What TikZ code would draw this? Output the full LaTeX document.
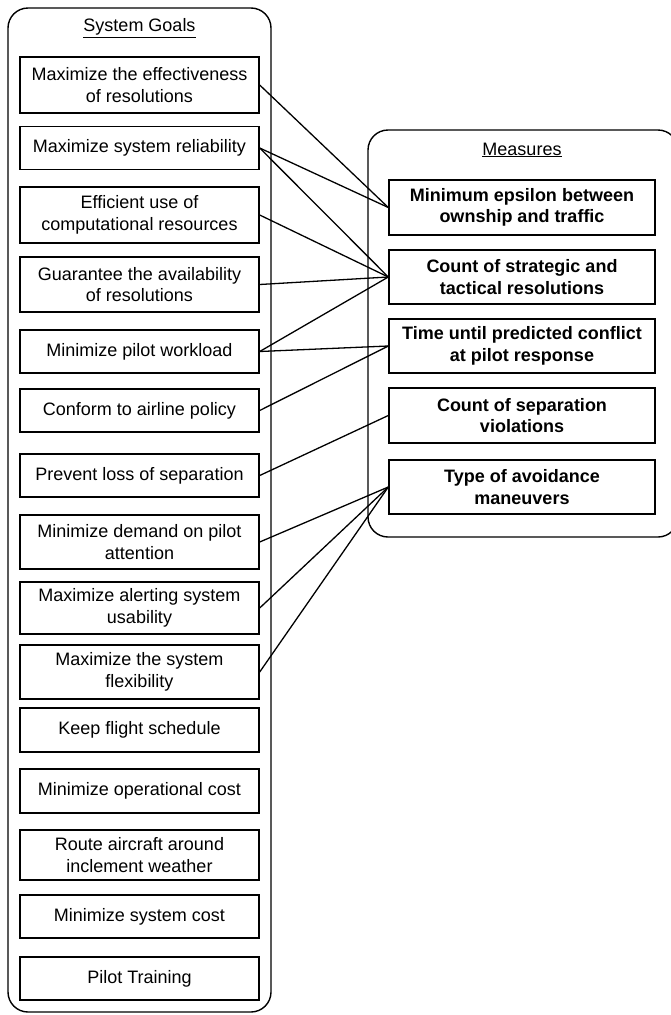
\documentclass[tikz,border=0pt]{standalone}
\usepackage{fontspec}
\setmainfont{Liberation Sans}
\usepackage{tikz}
\usetikzlibrary{positioning}

\begin{document}
\begin{tikzpicture}[
    x=1pt, y=-1pt,
    goalbox/.style={rectangle, draw, line width=1.4pt, fill=white, minimum width=239pt, minimum height=#1, inner sep=2pt, align=center, font=\fontsize{18}{21.5}\selectfont},
    measbox/.style={rectangle, draw, line width=1.4pt, fill=white, minimum width=266pt, minimum height=#1, inner sep=2pt, align=center, font=\fontsize{18}{21.5}\selectfont\bfseries},
    group/.style={draw, line width=1.4pt, rounded corners=20pt},
    title/.style={font=\fontsize{18}{21.5}\selectfont},
    link/.style={line width=1.3pt}
]
\useasboundingbox (0,0) rectangle (670,1015);

% Containers
\draw[group] (8,8) rectangle (271,1012);
\draw[group] (368,130) rectangle (678,537);
\node[title] (goaltitle) at (139.5,28) {\underline{System Goals}};
\node[title] (meastitle) at (522,150) {\underline{Measures}};

% System goals
\node[goalbox=56pt] (g1) at (139.5,85) {Maximize the effectiveness\\of resolutions};
\node[goalbox=43pt] (g2) at (139.5,148) {Maximize system reliability};
\node[goalbox=56pt] (g3) at (139.5,215) {Efficient use of\\computational resources};
\node[goalbox=55pt] (g4) at (139.5,284.5) {Guarantee the availability\\of resolutions};
\node[goalbox=43pt] (g5) at (139.5,351.5) {Minimize pilot workload};
\node[goalbox=43pt] (g6) at (139.5,410.5) {Conform to airline policy};
\node[goalbox=43pt] (g7) at (139.5,475.5) {Prevent loss of separation};
\node[goalbox=54pt] (g8) at (139.5,542) {Minimize demand on pilot\\attention};
\node[goalbox=52pt] (g9) at (139.5,608) {Maximize alerting system\\usability};
\node[goalbox=54pt] (g10) at (139.5,672) {Maximize the system\\flexibility};
\node[goalbox=44pt] (g11) at (139.5,730) {Keep flight schedule};
\node[goalbox=44pt] (g12) at (139.5,791) {Minimize operational cost};
\node[goalbox=50pt] (g13) at (139.5,855) {Route aircraft around\\inclement weather};
\node[goalbox=43pt] (g14) at (139.5,916.5) {Minimize system cost};
\node[goalbox=43pt] (g15) at (139.5,978.5) {Pilot Training};

% Measures
\node[measbox=55pt] (m1) at (522,207.5) {Minimum epsilon between\\ownship and traffic};
\node[measbox=54pt] (m2) at (522,277) {Count of strategic and\\tactical resolutions};
\node[measbox=54pt] (m3) at (522,346) {Time until predicted conflict\\at pilot response};
\node[measbox=55pt] (m4) at (522,415.5) {Count of separation\\violations};
\node[measbox=54pt] (m5) at (522,487) {Type of avoidance\\maneuvers};

% Links
\draw[link] (g1.east) -- (m1.west);
\draw[link] (g2.east) -- (m1.west);
\draw[link] (g2.east) -- (m2.west);
\draw[link] (g3.east) -- (m2.west);
\draw[link] (g4.east) -- (m2.west);
\draw[link] (g5.east) -- (m2.west);
\draw[link] (g5.east) -- (m3.west);
\draw[link] (g6.east) -- (m3.west);
\draw[link] (g7.east) -- (m4.west);
\draw[link] (g8.east) -- (m5.west);
\draw[link] (g9.east) -- (m5.west);
\draw[link] (g10.east) -- (m5.west);

\end{tikzpicture}
\end{document}
